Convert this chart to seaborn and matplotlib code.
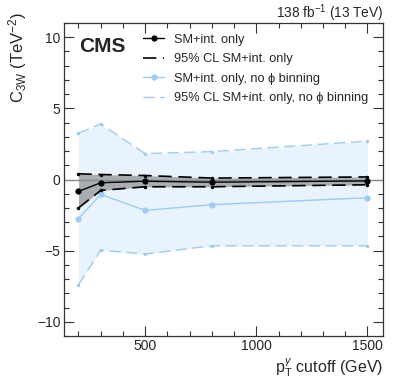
import numpy as np
import pandas as pd
import matplotlib
matplotlib.use("Agg")
import matplotlib.pyplot as plt
import seaborn as sns
from matplotlib.ticker import MultipleLocator
from matplotlib.lines import Line2D

# Data
pt_cut = [200, 300, 500, 800, 1500]
sm_central = [-0.84, -0.23, -0.12, -0.19, -0.10]
sm_upper = [0.40, 0.35, 0.28, 0.10, 0.18]
sm_lower = [-2.00, -0.77, -0.51, -0.51, -0.37]
nophi_central = [-2.75, -1.05, -2.17, -1.77, -1.28]
nophi_upper = [3.26, 3.90, 1.82, 1.96, 2.70]
nophi_lower = [-7.40, -4.97, -5.24, -4.66, -4.66]

legend_labels = ["SM+int. only", "95% CL SM+int. only",
                 "SM+int. only, no \u03d5 binning", "95% CL SM+int. only, no \u03d5 binning"]

sns.set_theme(style="ticks")
plt.rcParams['font.family'] = ['Liberation Sans', 'DejaVu Sans']
plt.rcParams['mathtext.fontset'] = 'custom'
plt.rcParams['mathtext.rm'] = 'Liberation Sans'
plt.rcParams['mathtext.it'] = 'Liberation Sans:italic'

df = pd.DataFrame({"pt": pt_cut, "sm": sm_central, "smu": sm_upper, "sml": sm_lower,
                   "np": nophi_central, "npu": nophi_upper, "npl": nophi_lower})

fig = plt.figure(figsize=(3.99, 3.83), dpi=100)
ax = fig.add_axes([64/399, 1-336/383, (383-64)/399, (336-23)/383])

blue = "#9ccbf7"
blue_fill = "#e8f3fe"

ax.fill_between(df["pt"], df["npl"], df["npu"], color=blue_fill, lw=0, zorder=1)
ax.fill_between(df["pt"], df["sml"], df["smu"], color="#a9adb1", lw=0, zorder=2)
ax.axhline(0, color="#8a8a8a", lw=1.0, zorder=2.5)

sns.lineplot(data=df, x="pt", y="npu", ax=ax, color=blue, lw=1.0,
             linestyle=(0, (8, 4)), marker="o", markersize=2.5, markeredgewidth=0, zorder=3)
sns.lineplot(data=df, x="pt", y="npl", ax=ax, color=blue, lw=1.0,
             linestyle=(0, (8, 4)), marker="o", markersize=2.5, markeredgewidth=0, zorder=3)
sns.lineplot(data=df, x="pt", y="np", ax=ax, color=blue, lw=1.0,
             marker="o", markersize=4.5, markeredgewidth=0, zorder=3)
sns.lineplot(data=df, x="pt", y="smu", ax=ax, color="black", lw=1.2,
             linestyle=(0, (8, 4)), marker="o", markersize=2.5, markeredgewidth=0, zorder=4)
sns.lineplot(data=df, x="pt", y="sml", ax=ax, color="black", lw=1.2,
             linestyle=(0, (8, 4)), marker="o", markersize=2.5, markeredgewidth=0, zorder=4)
sns.lineplot(data=df, x="pt", y="sm", ax=ax, color="black", lw=1.0,
             marker="o", markersize=4.5, markeredgewidth=0, zorder=4)

ax.set_xlim(135, 1570)
ax.set_ylim(-11, 11)
ax.xaxis.set_major_locator(MultipleLocator(500))
ax.xaxis.set_minor_locator(MultipleLocator(100))
ax.yaxis.set_major_locator(MultipleLocator(5))
ax.yaxis.set_minor_locator(MultipleLocator(1))
ax.tick_params(which="both", direction="in", top=True, right=True, labelsize=10, width=0.8, color="#333333")
ax.tick_params(which="major", length=7, pad=2.5)
ax.tick_params(which="minor", length=3.5)
for s in ax.spines.values():
    s.set_linewidth(0.9)
    s.set_color("#333333")

ax.set_xlabel(r"p$_{\mathrm{T}}^{\gamma}$ cutoff (GeV)", fontsize=11.5, loc="right", labelpad=2)
ax.set_ylabel(r"C$_{\mathrm{3W}}$ (TeV$^{\mathrm{-2}}$)", fontsize=12, loc="top")
ax.yaxis.set_label_coords(-0.11, 1.035)

ax.text(0.047, 0.955, "CMS", transform=ax.transAxes, fontsize=15, fontweight="bold", va="top", ha="left")
ax.text(1.0, 1.016, r"138 fb$^{\mathrm{-1}}$ (13 TeV)", transform=ax.transAxes, fontsize=9.8, ha="right", va="baseline")

handles = [
    Line2D([], [], color="black", lw=1.0, marker="o", markersize=3.5),
    Line2D([], [], color="black", lw=1.2, linestyle=(0, (8, 4))),
    Line2D([], [], color=blue, lw=1.0, marker="o", markersize=3.5),
    Line2D([], [], color=blue, lw=1.0, linestyle=(0, (8, 4))),
]
ax.legend(handles, legend_labels, loc="upper left", bbox_to_anchor=(0.225, 0.99), frameon=False,
          fontsize=9.2, handlelength=1.6, handletextpad=0.8, labelspacing=0.58,
          borderaxespad=0.2)

fig.savefig("out.png", dpi=100)
